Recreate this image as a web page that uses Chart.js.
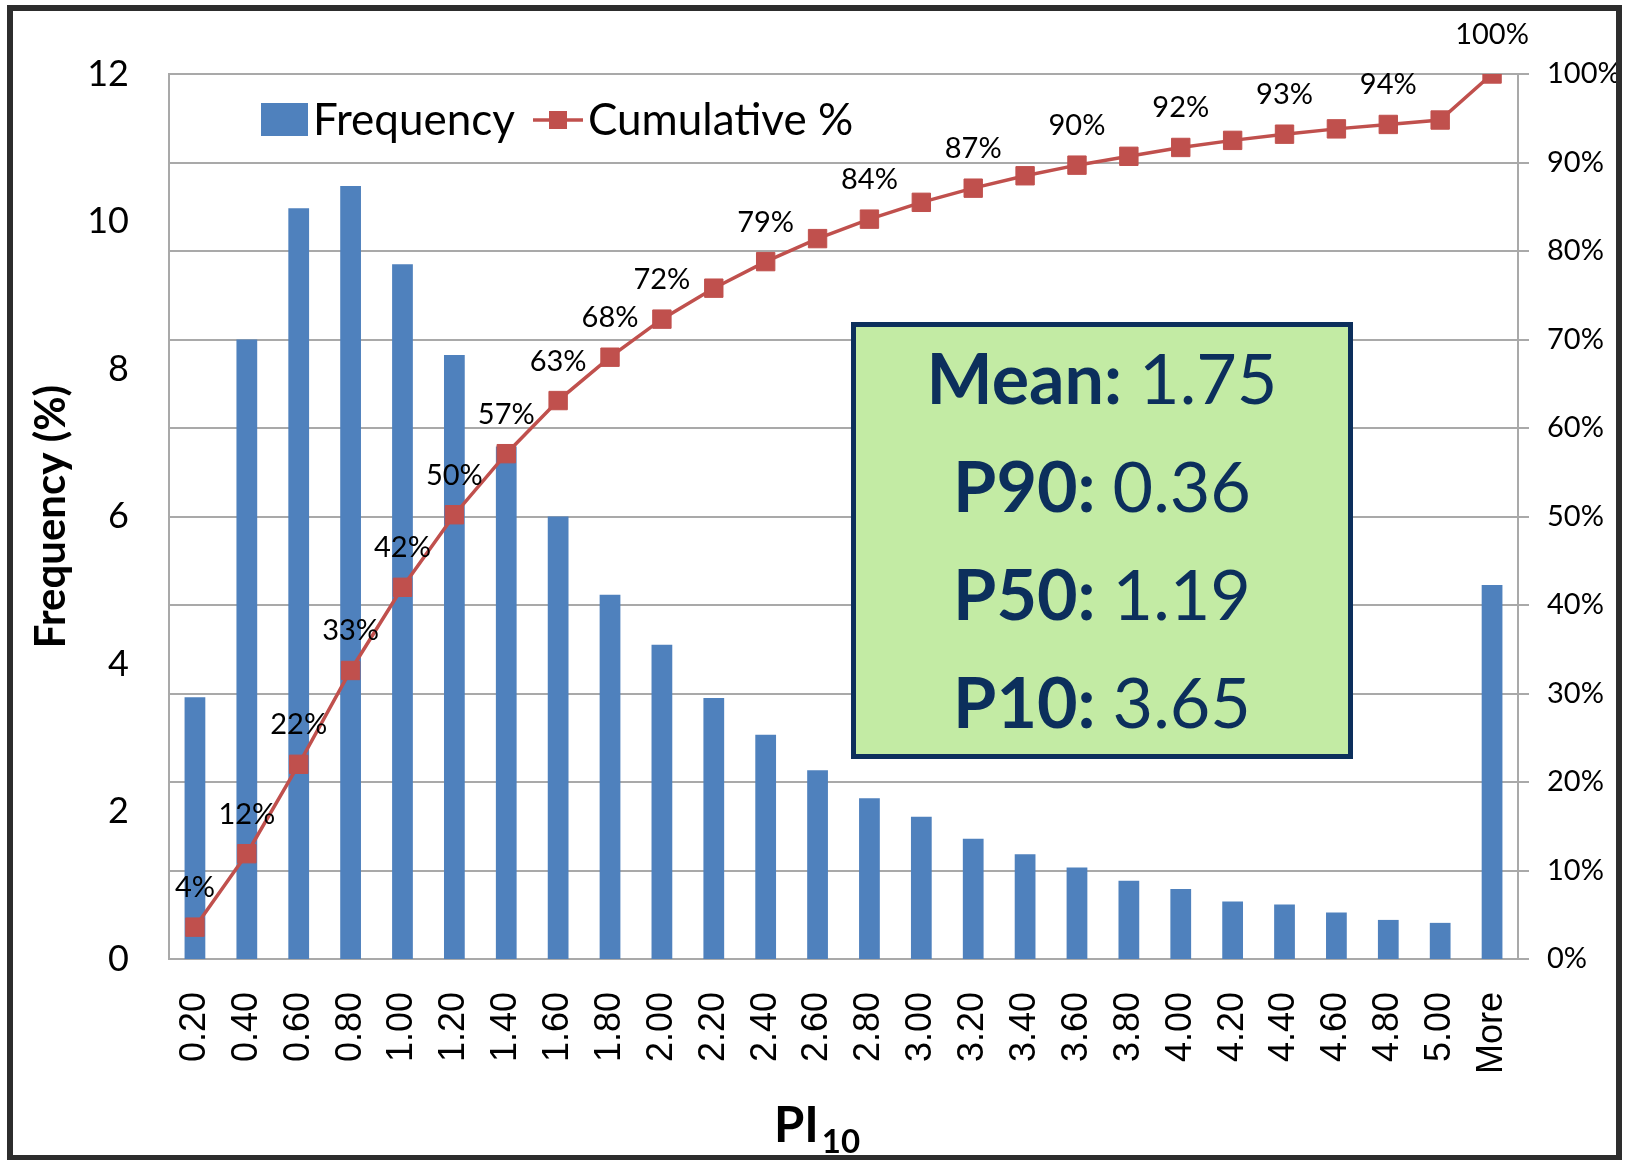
<!DOCTYPE html>
<html>
<head>
<meta charset="utf-8">
<title>PI10 histogram</title>
<script src="https://cdn.jsdelivr.net/npm/chart.js@4.4.1/dist/chart.umd.min.js"></script>
<style>
    html, body { margin: 0; padding: 0; background: #ffffff; overflow: hidden; }
    #wrap { position: relative; width: 1629px; height: 1160px; }
    #chart { position: absolute; left: 0; top: 0; }
    #frame {
        position: absolute; left: 7px; top: 5px; width: 1615px; height: 1156px;
        box-sizing: border-box; border: 6px solid #2d2d2d; pointer-events: none;
    }
</style>
</head>
<body>
<div id="wrap">
    <canvas id="chart" width="1629" height="1160"></canvas>
    <div id="frame"></div>
</div>
<script>
// Histogram bins (upper bin edges) and the share of samples in each
const bins = ['0.20', '0.40', '0.60', '0.80', '1.00', '1.20', '1.40', '1.60', '1.80', '2.00',
    '2.20', '2.40', '2.60', '2.80', '3.00', '3.20', '3.40', '3.60', '3.80', '4.00',
    '4.20', '4.40', '4.60', '4.80', '5.00', 'More'];
const frequency = [3.55, 8.40, 10.18, 10.48, 9.42, 8.19, 6.95, 6.00, 4.94, 4.26,
    3.54, 3.04, 2.56, 2.18, 1.93, 1.63, 1.42, 1.24, 1.06, 0.95,
    0.78, 0.74, 0.63, 0.53, 0.49, 5.07];
const cumulative = [3.6, 11.9, 22.0, 32.6, 42.0, 50.2, 57.1, 63.1, 68.0, 72.3,
    75.8, 78.8, 81.4, 83.6, 85.5, 87.1, 88.5, 89.7, 90.7, 91.7,
    92.5, 93.2, 93.8, 94.3, 94.8, 100];

// Points that carry a percentage label
const labelledPoints = [0, 1, 2, 3, 4, 5, 6, 7, 8, 9, 11, 13, 15, 17, 19, 21, 23, 25];

// Axis ranges: [min, max, step]
const freqRange = [0, 12, 2];
const cumRange = [0, 100, 10];

// Summary statistics shown in the box
const statNames = ['Mean:', 'P90:', 'P50:', 'P10:'];
const statValues = ['1.75', '0.36', '1.19', '3.65'];

const BAR_BLUE = '#4f81bd';
const LINE_RED = '#c0504d';
const GRID_GRAY = '#a9a9a9';
const NAVY = '#0c2f5c';

Chart.defaults.font.family = 'Lato';
Chart.defaults.color = '#000000';

// Percent labels above the cumulative line
const pointLabels = {
    id: 'pointLabels',
    afterDatasetsDraw(chart) {
        const meta = chart.getDatasetMeta(1);
        const ctx = chart.ctx;
        ctx.save();
        ctx.font = '29px Lato';
        ctx.fillStyle = '#000000';
        ctx.textAlign = 'center';
        ctx.textBaseline = 'alphabetic';
        labelledPoints.forEach(i => {
            const pt = meta.data[i];
            ctx.fillText(Math.round(cumulative[i]) + '%', pt.x, pt.y - 30);
        });
        ctx.restore();
    }
};

// Legend drawn inside the plot, Excel style
const insideLegend = {
    id: 'insideLegend',
    afterDraw(chart) {
        const ctx = chart.ctx;
        const [bars, line] = chart.data.datasets;
        const base = 135;
        ctx.save();
        ctx.font = '44px Lato';
        ctx.textBaseline = 'alphabetic';
        ctx.textAlign = 'left';

        ctx.fillStyle = bars.backgroundColor;
        ctx.fillRect(261, 103, 47, 33);
        ctx.fillStyle = '#000000';
        ctx.fillText(bars.label, 313, base);

        const ly = 120;
        ctx.strokeStyle = line.borderColor;
        ctx.lineWidth = 3.5;
        ctx.beginPath();
        ctx.moveTo(533, ly);
        ctx.lineTo(583, ly);
        ctx.stroke();
        ctx.fillStyle = line.borderColor;
        ctx.fillRect(549, ly - 9, 18, 18);
        ctx.fillStyle = '#000000';
        ctx.fillText(line.label, 588, base);
        ctx.restore();
    }
};

// Statistics box and the subscripted x axis title
const annotations = {
    id: 'annotations',
    afterDraw(chart) {
        const ctx = chart.ctx;
        const box = { left: 851, top: 322, right: 1353, bottom: 759 };
        ctx.save();
        ctx.fillStyle = '#c3eba4';
        ctx.fillRect(box.left, box.top, box.right - box.left, box.bottom - box.top);
        ctx.lineWidth = 5;
        ctx.strokeStyle = NAVY;
        ctx.strokeRect(box.left + 2.5, box.top + 2.5, box.right - box.left - 5, box.bottom - box.top - 5);

        const cx = (box.left + box.right) / 2;
        ctx.fillStyle = NAVY;
        ctx.textBaseline = 'alphabetic';
        ctx.textAlign = 'left';
        statNames.forEach((name, i) => {
            const y = 404 + i * 108;
            ctx.font = 'bold 70px Lato';
            const head = name + ' ';
            const w1 = ctx.measureText(head).width;
            ctx.font = '70px Lato';
            const w2 = ctx.measureText(statValues[i]).width;
            const x = cx - (w1 + w2) / 2;
            ctx.font = 'bold 70px Lato';
            ctx.fillText(head, x, y);
            ctx.font = '70px Lato';
            ctx.fillText(statValues[i], x + w1, y);
        });

        // x axis title: PI with subscript 10
        ctx.fillStyle = '#000000';
        ctx.font = 'bold 49px Lato';
        ctx.fillText('PI', 774, 1142);
        const wPI = ctx.measureText('PI').width;
        ctx.font = 'bold 33px Lato';
        ctx.fillText('10', 774 + wPI + 3, 1153);
        ctx.restore();
    }
};

function buildChart() {
    const ctx = document.getElementById('chart');
    new Chart(ctx, {
        data: {
            labels: bins,
            datasets: [{
                type: 'bar',
                label: 'Frequency',
                data: frequency,
                yAxisID: 'y',
                backgroundColor: BAR_BLUE,
                barPercentage: 0.4,
                categoryPercentage: 1.0,
                order: 1
            }, {
                type: 'line',
                label: 'Cumulative %',
                data: cumulative,
                yAxisID: 'y1',
                borderColor: LINE_RED,
                backgroundColor: LINE_RED,
                borderWidth: 3.5,
                tension: 0,
                pointStyle: 'rect',
                pointRadius: 13,
                pointBorderWidth: 1,
                pointBackgroundColor: LINE_RED,
                pointBorderColor: LINE_RED,
                order: 0
            }]
        },
        options: {
            responsive: false,
            animation: false,
            devicePixelRatio: 1,
            layout: { padding: { top: 74, left: 0, right: 0, bottom: 0 } },
            plugins: {
                legend: { display: false },
                tooltip: { enabled: false }
            },
            scales: {
                x: {
                    type: 'category',
                    offset: true,
                    grid: { display: false, drawTicks: false },
                    border: { display: true, color: GRID_GRAY, width: 2 },
                    ticks: {
                        autoSkip: false,
                        minRotation: 90,
                        maxRotation: 90,
                        padding: 33,
                        font: { family: 'Liberation Sans', size: 36 },
                        color: '#000000'
                    },
                    afterFit(scale) { scale.height = 201; }
                },
                y: {
                    position: 'left',
                    min: freqRange[0],
                    max: freqRange[1],
                    grid: { display: false, drawTicks: false },
                    border: { display: true, color: GRID_GRAY, width: 2 },
                    ticks: {
                        stepSize: freqRange[2],
                        padding: 40,
                        font: { size: 36 },
                        color: '#000000'
                    },
                    title: {
                        display: true,
                        text: 'Frequency (%)',
                        font: { size: 42, weight: 'bold' },
                        color: '#000000',
                        padding: { top: 26, bottom: 0 }
                    },
                    afterFit(scale) { scale.width = 169; }
                },
                y1: {
                    position: 'right',
                    min: cumRange[0],
                    max: cumRange[1],
                    grid: {
                        color: GRID_GRAY,
                        lineWidth: 2,
                        drawTicks: true,
                        tickLength: 11
                    },
                    border: { display: true, color: GRID_GRAY, width: 2 },
                    ticks: {
                        stepSize: cumRange[2],
                        padding: 18,
                        font: { size: 29 },
                        color: '#000000',
                        callback: v => v + '%'
                    },
                    afterFit(scale) { scale.width = 111; }
                }
            }
        },
        plugins: [pointLabels, insideLegend, annotations]
    });
}

document.fonts.ready.then(buildChart);
</script>
</body>
</html>
